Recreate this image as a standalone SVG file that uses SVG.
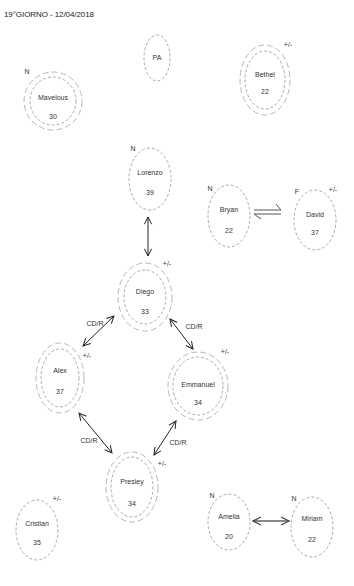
<svg xmlns="http://www.w3.org/2000/svg" width="354" height="586" viewBox="0 0 354 586">
<defs>
<marker id="ah" viewBox="0 0 10 10" refX="9" refY="5" markerWidth="9" markerHeight="9" markerUnits="userSpaceOnUse" orient="auto-start-reverse">
<path d="M1,1 L9,5 L1,9" fill="none" stroke="#222" stroke-width="1.1"/>
</marker>
<marker id="ahg" viewBox="0 0 10 10" refX="9" refY="5" markerWidth="10" markerHeight="10" markerUnits="userSpaceOnUse" orient="auto-start-reverse">
<path d="M1,1 L9,5 L1,9" fill="none" stroke="#444" stroke-width="1.2"/>
</marker>
</defs>
<style>
text{font-family:"Liberation Sans",Arial,sans-serif;font-size:7px;fill:#333;text-anchor:middle}
.t{text-anchor:start;font-size:8px;fill:#222}
.m{font-size:7px;text-anchor:middle;fill:#333}
.in{fill:none;stroke:#888;stroke-width:0.7;stroke-dasharray:3 2}
.out{fill:none;stroke:#999;stroke-width:0.7;stroke-dasharray:6 3}
.ar{stroke:#222;stroke-width:1;fill:none;marker-start:url(#ah);marker-end:url(#ah)}
</style>
<rect width="354" height="586" fill="#fff"/>
<text class="t" x="4" y="17" textLength="90">19°GIORNO - 12/04/2018</text>

<g id="connectors">
<line class="ar" x1="148" y1="217" x2="148" y2="256"/>
<line class="ar" x1="83" y1="346" x2="114" y2="316"/>
<line class="ar" x1="170" y1="319" x2="193" y2="349"/>
<line class="ar" x1="79" y1="413" x2="112" y2="453"/>
<line class="ar" x1="154" y1="455" x2="176" y2="421"/>
<g stroke="#555" stroke-width="1" fill="none">
<path d="M254,210 L281,210 L276,204"/>
<path d="M281,214 L254,214 L261,219"/>
</g>
<line x1="253" y1="521" x2="289" y2="521" stroke="#888" stroke-width="2" marker-start="url(#ahg)" marker-end="url(#ahg)"/>
<text x="95" y="326">CD/R</text>
<text x="194" y="329">CD/R</text>
<text x="89" y="443">CD/R</text>
<text x="178" y="445">CD/R</text>
</g>

<g id="PA">
<ellipse class="in" cx="157" cy="58" rx="13" ry="23"/>
<text x="157" y="60">PA</text>
</g>
<g id="Mavelous">
<ellipse class="out" cx="53" cy="101" rx="29" ry="29"/>
<ellipse class="in" cx="53" cy="101" rx="23" ry="24"/>
<text x="53" y="100">Mavelous</text>
<text x="53" y="119">30</text>
<text x="27" y="74">N</text>
</g>
<g id="Bethel">
<ellipse class="out" cx="265" cy="80" rx="25" ry="35"/>
<ellipse class="in" cx="265" cy="80" rx="20" ry="29"/>
<text x="265" y="77">Bethel</text>
<text x="265" y="94">22</text>
<text x="288" y="47">+/-</text>
</g>
<g id="Lorenzo">
<ellipse class="in" cx="150" cy="179" rx="21" ry="31"/>
<text x="150" y="175">Lorenzo</text>
<text x="150" y="195">39</text>
<text x="133" y="151">N</text>
</g>
<g id="Bryan">
<ellipse class="in" cx="229" cy="216" rx="21" ry="31"/>
<text x="229" y="212">Bryan</text>
<text x="229" y="233">22</text>
<text x="210" y="191">N</text>
</g>
<g id="David">
<ellipse class="in" cx="315" cy="220" rx="21" ry="30"/>
<text x="315" y="217">David</text>
<text x="315" y="235">37</text>
<text x="297" y="194">F</text>
<text x="333" y="192">+/-</text>
</g>
<g id="Diego">
<ellipse class="out" cx="145" cy="297" rx="27" ry="34"/>
<ellipse class="in" cx="145" cy="297" rx="21" ry="27"/>
<text x="145" y="294">Diego</text>
<text x="145" y="314">33</text>
<text x="167" y="266">+/-</text>
</g>
<g id="Alex">
<ellipse class="out" cx="60" cy="378" rx="24" ry="35"/>
<ellipse class="in" cx="60" cy="378" rx="19" ry="29"/>
<text x="60" y="373">Alex</text>
<text x="60" y="394">37</text>
<text x="87" y="358">+/-</text>
</g>
<g id="Emmanuel">
<ellipse class="out" cx="198" cy="386" rx="30" ry="34"/>
<ellipse class="in" cx="198" cy="386" rx="25" ry="29"/>
<text x="198" y="387">Emmanuel</text>
<text x="198" y="405">34</text>
<text x="225" y="354">+/-</text>
</g>
<g id="Presley">
<ellipse class="out" cx="132" cy="487" rx="26" ry="35"/>
<ellipse class="in" cx="132" cy="487" rx="21" ry="30"/>
<text x="132" y="484">Presley</text>
<text x="132" y="506">34</text>
<text x="162" y="466">+/-</text>
</g>
<g id="Cristian">
<ellipse class="in" cx="37" cy="530" rx="21" ry="30"/>
<text x="37" y="526">Cristian</text>
<text x="37" y="545">35</text>
<text x="57" y="501">+/-</text>
</g>
<g id="Amelia">
<ellipse class="in" cx="229" cy="522" rx="21" ry="28"/>
<text x="229" y="519">Amelia</text>
<text x="229" y="539">20</text>
<text x="212" y="498">N</text>
</g>
<g id="Miriam">
<ellipse class="in" cx="312" cy="527" rx="21" ry="30"/>
<text x="312" y="521">Miriam</text>
<text x="312" y="542">22</text>
<text x="294" y="501">N</text>
</g>
</svg>
